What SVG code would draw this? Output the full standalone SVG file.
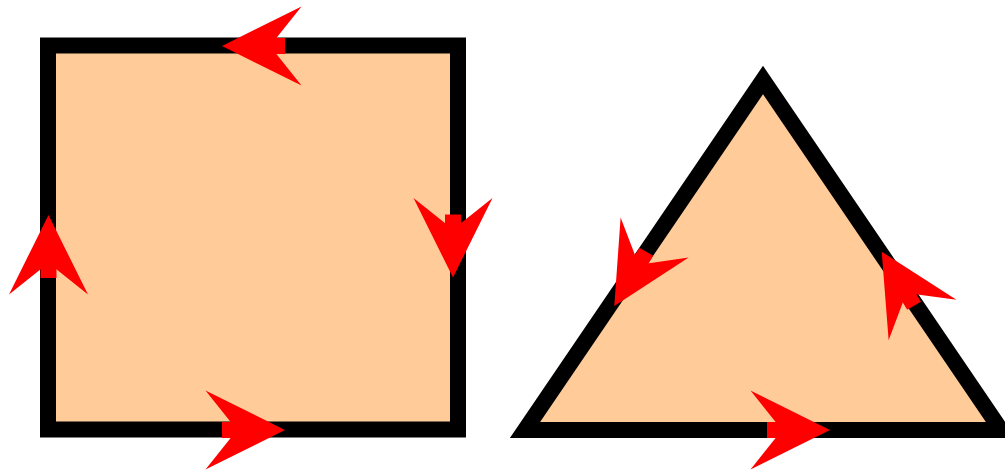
<svg xmlns="http://www.w3.org/2000/svg" width="1005" height="470" viewBox="0 0 1005 470">
  <style>
    .shape { fill: #ffcc99; stroke: #000000; stroke-width: 16; stroke-linejoin: miter; stroke-miterlimit: 10; }
    .arrow { fill: #ff0000; stroke: none; }
  </style>
  <defs>
    <g id="arrowhead" class="arrow">
      <rect x="-63" y="-8" width="20" height="16"/>
      <path d="M0,0 L-79.5,-39.5 L-48,0 L-79.5,39.5 Z"/>
    </g>
  </defs>
  <rect width="1005" height="470" fill="#ffffff"/>
  <g id="square">
    <rect class="shape" x="48" y="45.5" width="410" height="384"/>
  </g>
  <g id="triangle">
    <polygon class="shape" points="763,80 1001,430 525,430"/>
  </g>
  <g id="connectors">
    <use href="#arrowhead" transform="translate(222,46) rotate(180)"/>
    <use href="#arrowhead" transform="translate(48.5,215) rotate(-90)"/>
    <use href="#arrowhead" transform="translate(453,277.5) rotate(90)"/>
    <use href="#arrowhead" transform="translate(285,430)"/>
    <use href="#arrowhead" transform="translate(614.3,306) rotate(120.5)"/>
    <use href="#arrowhead" transform="translate(881.7,251.7) rotate(-120.9)"/>
    <use href="#arrowhead" transform="translate(830,430)"/>
  </g>
</svg>
